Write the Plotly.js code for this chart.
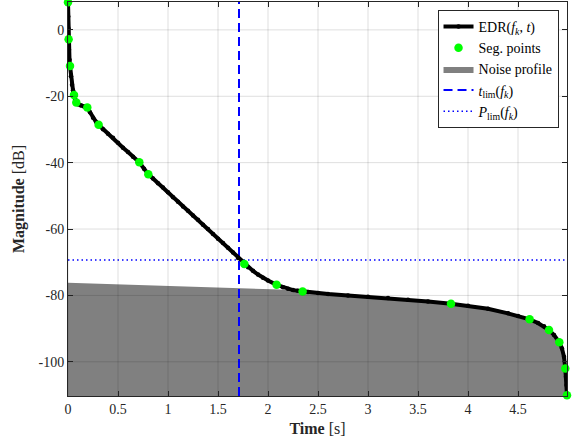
<!DOCTYPE html>
<html>
<head>
<meta charset="utf-8">
<script src="https://cdn.plot.ly/plotly-3.0.1.min.js"></script>
<style>html,body{margin:0;padding:0;background:#fff;}#chart{width:578px;height:444px;}</style>
</head>
<body>
<div id="chart"></div>
<script>
// EDR curve (time in s, magnitude in dB)
const edrT = [0, 0.002, 0.004, 0.006, 0.01, 0.015, 0.02, 0.03, 0.04, 0.05, 0.06, 0.07, 0.083, 0.1, 0.13, 0.16, 0.193, 0.22, 0.25, 0.28, 0.306, 0.35, 0.4, 0.45, 0.5, 0.55, 0.6, 0.65, 0.713, 0.76, 0.803, 0.85, 0.9, 0.95, 1.0, 1.05, 1.1, 1.15, 1.2, 1.25, 1.3, 1.35, 1.4, 1.45, 1.5, 1.55, 1.6, 1.65, 1.7, 1.763, 1.8, 1.85, 1.9, 1.95, 2.0, 2.086, 2.15, 2.2, 2.25, 2.3, 2.346, 2.4, 2.5, 2.6, 2.8, 3.0, 3.2, 3.4, 3.6, 3.83, 4.0, 4.2, 4.4, 4.5, 4.616, 4.7, 4.76, 4.81, 4.86, 4.913, 4.94, 4.96, 4.973, 4.98, 4.985, 4.99];
const edrDb = [8.3, 4, 0.5, -2.8, -6, -9, -10.9, -14, -16.5, -18.2, -19.6, -20.8, -21.9, -22.4, -22.8, -23.1, -23.4, -24.8, -26.5, -27.7, -28.6, -29.9, -31.3, -32.5, -34.0, -35.5, -36.8, -38.2, -39.9, -41.8, -43.5, -44.8, -46.2, -47.5, -48.9, -50.4, -51.8, -53.2, -54.5, -55.9, -57.2, -58.7, -60.0, -61.5, -62.9, -64.2, -65.6, -67.1, -68.7, -70.5, -71.5, -72.6, -73.7, -74.7, -75.5, -76.8, -77.5, -78.0, -78.4, -78.6, -78.8, -79.0, -79.3, -79.6, -80.0, -80.4, -80.8, -81.3, -81.8, -82.5, -83.1, -84.0, -85.4, -86.2, -87.2, -88.3, -89.3, -90.4, -91.9, -94.1, -96, -98.5, -102, -104.5, -107, -110.1];

// Segmentation points
const segT = [0, 0.006, 0.02, 0.06, 0.083, 0.193, 0.306, 0.713, 0.803, 1.763, 2.086, 2.346, 3.83, 4.616, 4.81, 4.913, 4.973, 4.99];
const segDb = [8.3, -2.8, -10.9, -19.6, -21.9, -23.4, -28.6, -39.9, -43.5, -70.5, -76.8, -78.8, -82.5, -87.2, -90.4, -94.1, -102, -110.1];

// Noise profile
const noiseT = [0, 1.32, 2.12, 2.4, 2.5, 2.8, 3.2, 3.6, 4.0, 4.4, 4.616, 4.81, 4.913, 4.96, 4.98, 4.99];
const noiseDb = [-76.2, -77.5, -78.2, -78.9, -79.3, -80.0, -80.8, -81.8, -83.1, -85.4, -87.2, -90.4, -94.1, -98.5, -104.5, -110.3];

// Limits
const tLim = 1.71;
const pLim = -69.3;

// Axes
const xRange = [0, 4.99];
const yRange = [-110.3, 8.4];
const xTicks = [0, 0.5, 1, 1.5, 2, 2.5, 3, 3.5, 4, 4.5];
const xTickText = ['0', '0.5', '1', '1.5', '2', '2.5', '3', '3.5', '4', '4.5'];
const yTicks = [0, -20, -40, -60, -80, -100];
const yTickText = ['0', '-20', '-40', '-60', '-80', '-100'];

const FONT = 'Liberation Serif, Times New Roman, serif';
const ink = '#262626';

const traces = [
  {
    x: noiseT.concat([noiseT[noiseT.length - 1], noiseT[0]]),
    y: noiseDb.concat([yRange[0], yRange[0]]),
    type: 'scatter', mode: 'lines', fill: 'toself',
    fillcolor: '#808080', line: {width: 0, color: '#808080'},
    name: 'Noise profile', legendrank: 3, hoverinfo: 'skip'
  },
  {
    x: [tLim, tLim], y: yRange,
    type: 'scatter', mode: 'lines',
    line: {color: '#0000ff', width: 2, dash: '9px,5px'},
    name: '<i>t</i><sub>lim</sub>(<i>f</i><sub><i>k</i></sub>)', legendrank: 4
  },
  {
    x: xRange, y: [pLim, pLim],
    type: 'scatter', mode: 'lines',
    line: {color: '#0000ff', width: 1.5, dash: '1.5px,3px'},
    name: '<i>P</i><sub>lim</sub>(<i>f</i><sub><i>k</i></sub>)', legendrank: 5
  },
  {
    x: edrT, y: edrDb,
    type: 'scatter', mode: 'lines+markers',
    line: {color: '#000000', width: 4},
    marker: {color: '#000000', size: 4.5},
    name: 'EDR(<i>f</i><sub><i>k</i></sub>, <i>t</i>)', legendrank: 1
  },
  {
    x: segT, y: segDb,
    type: 'scatter', mode: 'markers',
    marker: {color: '#00ff00', size: 8.5},
    name: 'Seg. points', legendrank: 2, cliponaxis: false
  }
];

const gridShapes = [];
xTicks.forEach(v => gridShapes.push({type: 'line', xref: 'x', yref: 'paper', x0: v, x1: v, y0: 0, y1: 1, layer: 'above', line: {color: 'rgba(0,0,0,0.13)', width: 1}}));
yTicks.forEach(v => gridShapes.push({type: 'line', xref: 'paper', yref: 'y', x0: 0, x1: 1, y0: v, y1: v, layer: 'above', line: {color: 'rgba(0,0,0,0.13)', width: 1}}));

const axisCommon = {
  showgrid: false, zeroline: false, showline: true, linecolor: ink, linewidth: 1,
  mirror: 'ticks', ticks: 'inside', ticklen: 5, tickcolor: ink, tickwidth: 1,
  tickfont: {family: FONT, size: 14, color: ink}, layer: 'above traces', tickmode: 'array'
};

const layout = {
  width: 578, height: 444,
  margin: {l: 68, r: 11, t: 2, b: 48},
  paper_bgcolor: '#ffffff', plot_bgcolor: '#ffffff',
  font: {family: FONT, color: ink},
  showlegend: true,
  xaxis: Object.assign({}, axisCommon, {
    range: xRange, tickvals: xTicks, ticktext: xTickText,
    title: {text: '<b>Time</b> [s]', font: {family: FONT, size: 16, color: ink}, standoff: 7}
  }),
  yaxis: Object.assign({}, axisCommon, {
    range: yRange, tickvals: yTicks, ticktext: yTickText,
    title: {text: '<b>Magnitude</b> [dB]', font: {family: FONT, size: 16, color: ink}, standoff: 9}
  }),
  legend: {
    x: 0.983, y: 0.98, xanchor: 'right', yanchor: 'top',
    bgcolor: '#ffffff', bordercolor: ink, borderwidth: 1,
    font: {family: FONT, size: 14, color: '#000'},
    traceorder: 'normal', tracegroupgap: 0, itemwidth: 30
  },
  shapes: gridShapes
};

Plotly.newPlot('chart', traces, layout, {displayModeBar: false, staticPlot: true});
</script>
</body>
</html>
